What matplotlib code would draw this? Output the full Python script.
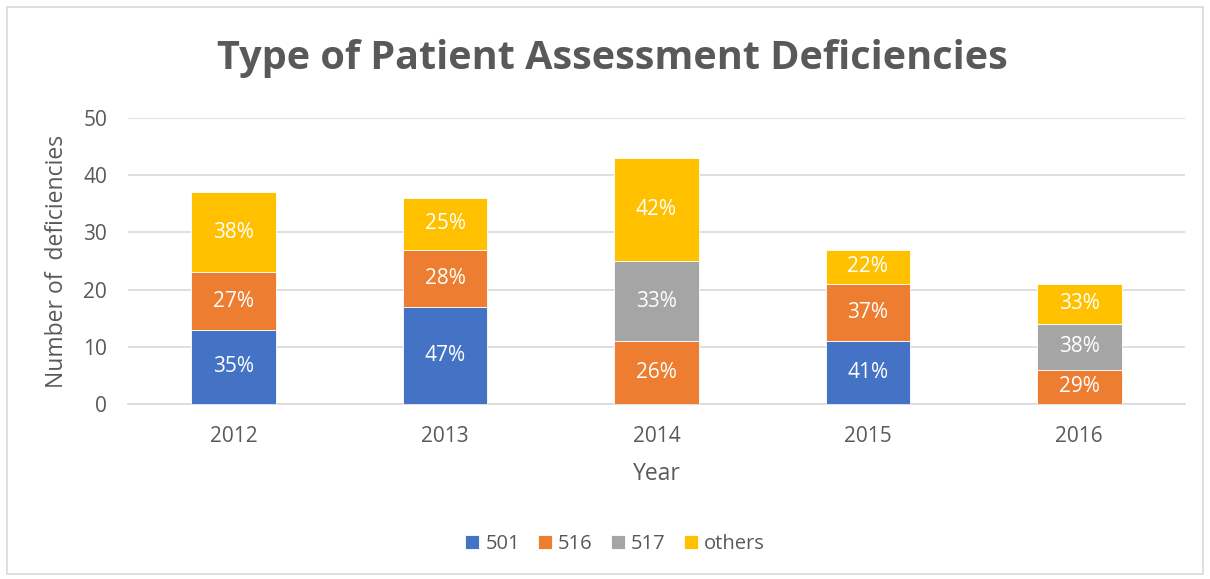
import matplotlib.pyplot as plt
import numpy as np
from matplotlib.patches import Rectangle

years = ["2012", "2013", "2014", "2015", "2016"]
series_names = ["501", "516", "517", "others"]
v501 = [13, 17, 0, 11, 0]
v516 = [10, 10, 11, 10, 6]
v517 = [0, 0, 14, 0, 8]
vothers = [14, 9, 18, 6, 7]
lab501 = ["35%", "47%", "", "41%", ""]
lab516 = ["27%", "28%", "26%", "37%", "29%"]
lab517 = ["", "", "33%", "", "38%"]
labothers = ["38%", "25%", "42%", "22%", "33%"]

colors = ["#4472C4", "#ED7D31", "#A5A5A5", "#FFC000"]
text_color = "#595959"

plt.rcParams["font.family"] = ["Open Sans", "DejaVu Sans"]

fig = plt.figure(figsize=(12.1, 5.79), dpi=100)
fig.patches.append(Rectangle((7 / 1210, 5 / 579), 1196 / 1210, 567 / 579,
                             transform=fig.transFigure, fill=False,
                             edgecolor="#D9D9D9", linewidth=1.2))
ax = fig.add_axes([128 / 1210, 1 - 404 / 579, 1057 / 1210, 286 / 579])

x = np.arange(len(years))
bottom = np.zeros(len(years))
all_vals = [v501, v516, v517, vothers]
all_labs = [lab501, lab516, lab517, labothers]
for name, vals, labs, c in zip(series_names, all_vals, all_labs, colors):
    vals = np.array(vals, dtype=float)
    ax.bar(x, vals, 0.4, bottom=bottom, color=c, label=name,
           edgecolor="white", linewidth=0.6, zorder=3)
    for xi, b, v, lab in zip(x, bottom, vals, labs):
        if v > 0 and lab:
            ax.text(xi, b + v / 2, lab, ha="center", va="center",
                    color="white", fontsize=15, zorder=4)
    bottom += vals

ax.set_xlim(-0.5, len(years) - 0.5)
ax.set_ylim(0, 50)
ax.set_yticks(range(0, 51, 10))
ax.set_xticks(x)
ax.set_xticklabels(years)
ax.yaxis.grid(True, color="#D9D9D9", linewidth=1.2, zorder=0)
ax.set_axisbelow(True)
for s in ["top", "right", "left"]:
    ax.spines[s].set_visible(False)
ax.spines["bottom"].set_color("#D9D9D9")
ax.spines["bottom"].set_linewidth(1.2)
ax.tick_params(length=0, labelsize=15, colors=text_color)
ax.tick_params(axis="x", pad=16)
ax.tick_params(axis="y", pad=15)

ax.set_xlabel("Year", fontsize=16.5, color=text_color, labelpad=11)
ax.set_ylabel("Number of  deficiencies", fontsize=16.5, color=text_color, labelpad=10)

fig.text(612 / 1210, 1 - 58 / 579, "Type of Patient Assessment Deficiencies",
         ha="center", va="center", fontsize=28.5, fontweight="bold", color=text_color)

ax.legend(loc="center", bbox_to_anchor=(615 / 1210, 1 - 544 / 579), bbox_transform=fig.transFigure,
          ncol=4, frameon=False, fontsize=14.5, labelcolor=text_color,
          handlelength=0.7, handleheight=0.7, handletextpad=0.3, columnspacing=0.9)

fig.savefig("out.png", dpi=100)
